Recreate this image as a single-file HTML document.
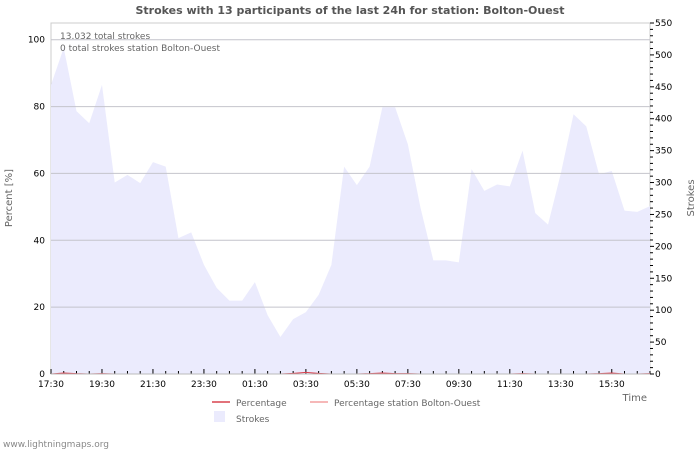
<!DOCTYPE html>
<html><head><meta charset="utf-8"><style>
body{margin:0;background:#fff;font-family:"DejaVu Sans","Liberation Sans",sans-serif;}
svg text{font-family:"DejaVu Sans","Liberation Sans",sans-serif;}
</style></head><body>
<svg id="c" width="700" height="450" xmlns="http://www.w3.org/2000/svg">
<text x="350" y="14" text-anchor="middle" font-size="11" font-weight="bold" fill="#555">Strokes with 13 participants of the last 24h for station: Bolton-Ouest</text>
<g id="plot"></g>
<text x="60" y="39" font-size="9" fill="#666">13.032 total strokes</text>
<text x="60" y="51" font-size="9" fill="#666">0 total strokes station Bolton-Ouest</text>
<text transform="translate(12,198) rotate(-90)" text-anchor="middle" font-size="10" fill="#666">Percent   [%]</text>
<text transform="translate(694,198) rotate(-90)" text-anchor="middle" font-size="10" fill="#666">Strokes</text>
<text x="647" y="401" text-anchor="end" font-size="10" fill="#666">Time</text>
<g>
<line x1="212" y1="402" x2="230" y2="402" stroke="#d9434f" stroke-width="1.5"/>
<text x="236" y="406" font-size="9" fill="#666">Percentage</text>
<line x1="310" y1="402" x2="328" y2="402" stroke="#f4a0a0" stroke-width="1.5"/>
<text x="334" y="406" font-size="9" fill="#666">Percentage station Bolton-Ouest</text>
<rect x="214" y="411" width="11" height="11" fill="#ebebfd"/>
<text x="236" y="422" font-size="9" fill="#666">Strokes</text>
</g>
<text x="3" y="447" font-size="9" fill="#888">www.lightningmaps.org</text>
</svg>
<script>
const strokes=[453,511,412,393,453,300,312,299,332,325,213,222,171,135,115,115,144,92,58,86,97,124,171,325,296,325,418,418,360,260,178,178,175,321,287,297,294,350,252,234,314,407,388,313,318,256,254,263];
const pct=[0,0.3,0.1,0,0.1,0,0,0,0,0,0,0,0,0,0,0,0,0,0,0.2,0.5,0.2,0,0,0,0.1,0.3,0.1,0.1,0,0,0,0,0,0,0,0,0.1,0,0,0,0,0,0.1,0.3,0,0,0.1];
const xLabels=["17:30","19:30","21:30","23:30","01:30","03:30","05:30","07:30","09:30","11:30","13:30","15:30"];
const leftTicks=[0,20,40,60,80,100];
const rightTicks=[0,50,100,150,200,250,300,350,400,450,500,550];
const X0=51,X1=650,Y0=374,Y1=23;
const NS="http://www.w3.org/2000/svg";
const g=document.getElementById('plot');
function xs(i){return X0+i*(X1-X0)/(strokes.length-1);}
function yl(v){return Y0-v*(Y0-Y1)/105;}
function yr(v){return Y0-v*(Y0-Y1)/550;}
function mk(t,a){const e=document.createElementNS(NS,t);for(const k in a)e.setAttribute(k,a[k]);g.appendChild(e);return e;}
let b=mk('rect',{x:X0,y:Y1,width:X1-X0,height:Y0-Y1,fill:'#fff',stroke:'#ccc'});


let d='M'+xs(0)+','+Y0;
strokes.forEach((v,i)=>{d+=' L'+xs(i)+','+yr(v);});
d+=' L'+xs(strokes.length-1)+','+Y0+' Z';
let a=mk('path',{d:d,fill:'#ebebfd'});


leftTicks.forEach(v=>{
 if(v>0){let l=mk('line',{x1:X0,x2:X1,y1:yl(v),y2:yl(v),stroke:'#c4c4cc'});
 
 }
 let t=mk('text',{x:45,y:yl(v)+3,'text-anchor':'end','font-size':9,fill:'#000'});t.textContent=v;
 
 
});
for(let v=0;v<=550;v+=10){let big=v%50==0;mk('line',{x1:X1,x2:X1+(big?4:3),y1:yr(v),y2:yr(v),stroke:'#000'});}
rightTicks.forEach(v=>{let t=mk('text',{x:X1+5,y:yr(v)+3,'font-size':9,fill:'#000'});t.textContent=v;
 
 });
strokes.forEach((v,i)=>{mk('line',{x1:xs(i),x2:xs(i),y1:Y0,y2:Y0-(i%4==0?5:3),stroke:'#000'});});
xLabels.forEach((s,k)=>{let t=mk('text',{x:xs(k*4),y:Y0+13,'text-anchor':'middle','font-size':9,fill:'#000'});t.textContent=s;
 
 });
let pd='';pct.forEach((v,i)=>{pd+=(i?' L':'M')+xs(i)+','+yl(v);});
let p=mk('path',{d:pd,fill:'none',stroke:'#d9434f','stroke-width':1});


mk('line',{x1:X0,x2:X1,y1:Y0,y2:Y0,stroke:'#bbb'});
</script>
</body></html>
